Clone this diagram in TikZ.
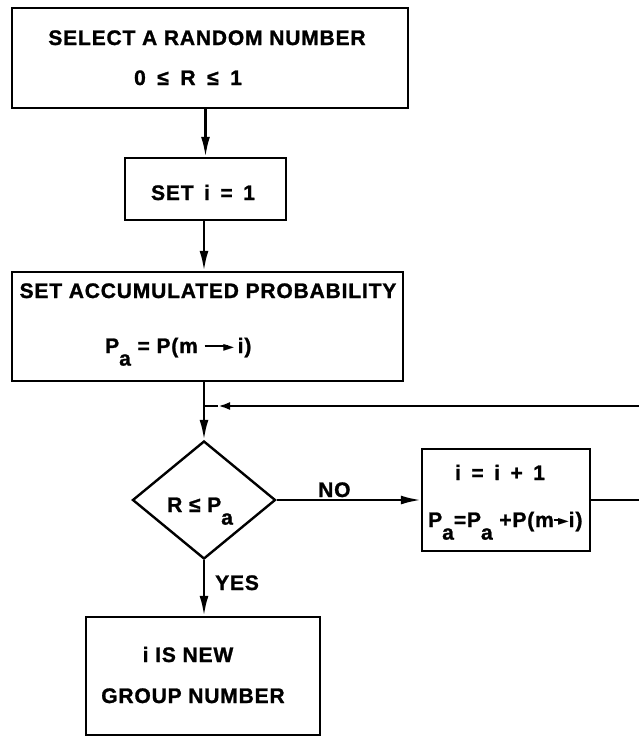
\documentclass[tikz,border=0pt]{standalone}
\usepackage{fontspec}
\setmainfont{Liberation Sans}[LetterSpace=4, BoldFeatures={FakeBold=1.2}]
\newfontfamily\arrowfont{DejaVu Sans}
\usetikzlibrary{arrows.meta,shapes.geometric}
% lowered subscript letter, as in hand lettering
\newcommand\lsub[1]{\raisebox{-0.6em}{#1}}
% long arrow with a small solid head, used inside the formulas
\newcommand\garrow[1]{\rule[0.27em]{#1}{2.2pt}\kern-0.2em\raisebox{0.06em}{\arrowfont\fontsize{14}{14}\selectfont ►}}
\begin{document}
\begin{tikzpicture}[x=1pt,y=-1pt,
  box/.style={draw, line width=2.4pt, inner sep=0pt},
  txt/.style={font=\bfseries\fontsize{21}{25}\selectfont, inner sep=0pt},
  arr/.style={line width=2.4pt, -{Latex[length=20pt,width=9pt]}},
  arrs/.style={line width=2.4pt, -{Latex[length=12pt,width=8pt]}},
  plain/.style={line width=2.4pt}]
\useasboundingbox (0,0) rectangle (639,737);

% boxes
\node[box, minimum width=396pt, minimum height=100pt] (b1) at (210,58) {};
\node[box, minimum width=161pt, minimum height=62pt] (b2) at (205.5,189) {};
\node[box, minimum width=391pt, minimum height=109pt] (b3) at (207.5,326.5) {};
\node[box, diamond, minimum width=143pt, minimum height=118pt] (d) at (204,500) {};
\node[box, minimum width=168pt, minimum height=102pt] (b5) at (506,500) {};
\node[box, minimum width=234pt, minimum height=118pt] (b6) at (203,676) {};

% texts
\node[txt, anchor=base] (t1) at (207,45) {SELECT A RANDOM NUMBER};
\node[txt, anchor=base] (t2) at (188,85) {0\hspace{0.55em}≤\hspace{0.55em}R\hspace{0.55em}≤\hspace{0.55em}1};
\node[txt, anchor=base] (t3) at (203,200) {SET\hspace{0.5em}i\hspace{0.5em}=\hspace{0.5em}1};
\node[txt, anchor=base] (t4) at (208,298) {SET ACCUMULATED PROBABILITY};
\node[txt, anchor=base west] (t5) at (105,353) {P\lsub{a} = P(m \garrow{1.1em}\,i)};
\node[txt, anchor=base west] (t6) at (167,512) {R ≤ P\lsub{a}};
\node[txt, anchor=base west] (no) at (318,497) {NO};
\node[txt, anchor=base west] (yes) at (215,590) {YES};
\node[txt, anchor=base] (t7) at (500,480) {i\hspace{0.5em}=\hspace{0.5em}i\hspace{0.5em}+\hspace{0.5em}1};
\node[txt, anchor=base west] (t8) at (428,527) {P\lsub{a}=P\lsub{a} +P(m\garrow{0.4em}i)};
\node[txt, anchor=base] (t9) at (188,662) {i IS NEW};
\node[txt, anchor=base] (t10) at (193,703) {GROUP NUMBER};

% connectors
\coordinate (j) at (d.north |- 0,406);
\coordinate (fbtip) at (218,406);
\coordinate (fbin) at (639,406);
\coordinate (loopout) at (639,500);

\draw[arr] (b2.north |- b1.south) -- (b2.north);
\draw[arr] (d.north |- b2.south) -- (d.north |- b3.north);
\draw[arr] (d.north |- b3.south) -- (d.north);
\draw[arrs] (fbin) -- (fbtip);
\draw[plain] (fbtip) -- (j);
\draw[arr] (d.east) -- (b5.west);
\draw[plain] (b5.east) -- (loopout);
\draw[arr] (d.south) -- (d.south |- b6.north);
\end{tikzpicture}
\end{document}
